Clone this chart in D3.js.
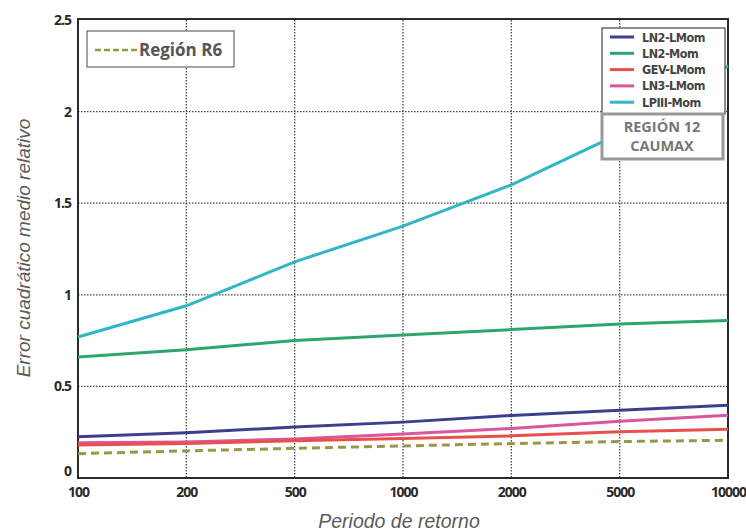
<!DOCTYPE html>
<html>
<head>
<meta charset="utf-8">
<script src="https://cdn.jsdelivr.net/npm/d3@7"></script>
<style>
  html, body { margin: 0; padding: 0; background: #fff; }
  svg { display: block; }
</style>
</head>
<body>
<svg id="chart" width="746" height="531"></svg>
<script>
// Return periods (categorical, evenly spaced on the axis)
const periods = ["100", "200", "500", "1000", "2000", "5000", "10000"];
const yTicks = [0, 0.5, 1, 1.5, 2, 2.5];

// Relative RMSE per distribution / fitting method
const ln2LMom  = [0.225, 0.247, 0.278, 0.305, 0.341, 0.370, 0.397];
const ln2Mom   = [0.66, 0.70, 0.75, 0.78, 0.81, 0.84, 0.86];
const gevLMom  = [0.180, 0.188, 0.204, 0.215, 0.230, 0.252, 0.266];
const ln3LMom  = [0.192, 0.197, 0.213, 0.240, 0.270, 0.310, 0.343];
const lp3Mom   = [0.77, 0.94, 1.18, 1.375, 1.60, 1.88, 2.25];
const regionR6 = [0.133, 0.148, 0.162, 0.175, 0.188, 0.199, 0.206];

const seriesNames  = ["LN2-LMom", "LN2-Mom", "GEV-LMom", "LN3-LMom", "LPIII-Mom"];
const seriesValues = [ln2LMom, ln2Mom, gevLMom, ln3LMom, lp3Mom];
const seriesColors = ["#3d3f8e", "#2ea56e", "#e8504c", "#d9559c", "#2fb7c6"];
const drawOrder = [4, 1, 0, 3, 2];

const svg = d3.select("#chart");
const pLeft = 78, pRight = 728, pTop = 20, pBottom = 478;

const x = d3.scalePoint().domain(periods).range([pLeft, pRight]);
const y = d3.scaleLinear().domain([0, 2.5]).range([pBottom, pTop]);

// Grid
const grid = svg.append("g").attr("stroke", "#4a4a4a").attr("stroke-width", 1.3)
  .attr("stroke-dasharray", "1.5,1.5");
grid.selectAll("line.v").data(periods.slice(1, -1)).join("line")
  .attr("x1", d => x(d)).attr("x2", d => x(d)).attr("y1", pTop).attr("y2", pBottom);
grid.selectAll("line.h").data(yTicks.slice(1, -1)).join("line")
  .attr("x1", pLeft).attr("x2", pRight).attr("y1", d => y(d)).attr("y2", d => y(d));

// Axes
const tickFont = "'Open Sans', 'DejaVu Sans Condensed', sans-serif";
const xAxis = svg.append("g").attr("transform", `translate(0,${pBottom})`)
  .call(d3.axisBottom(x).tickSize(0).tickPadding(9));
xAxis.select(".domain").remove();
xAxis.selectAll("text").attr("font-family", tickFont).attr("font-size", 14)
  .attr("font-weight", 700).attr("fill", "#2a2a2a").attr("letter-spacing", -1);

const yAxis = svg.append("g").attr("transform", `translate(${pLeft},0)`)
  .call(d3.axisLeft(y).tickValues(yTicks).tickFormat(d => String(d)).tickSize(0).tickPadding(7));
yAxis.select(".domain").remove();
yAxis.selectAll("text").attr("font-family", tickFont).attr("font-size", 14)
  .attr("font-weight", 700).attr("fill", "#2a2a2a").attr("letter-spacing", -1);
yAxis.selectAll(".tick").filter(d => d === 0).select("text").attr("dy", "-0.15em");

// Frame
svg.append("rect").attr("x", pLeft).attr("y", pTop - 1).attr("width", pRight - pLeft)
  .attr("height", pBottom - pTop + 1).attr("fill", "none").attr("stroke", "#2a2a2a")
  .attr("stroke-width", 2);

// Lines
const line = d3.line().x((d, i) => x(periods[i])).y(d => y(d));
const plot = svg.append("g");
drawOrder.forEach(k => {
  plot.append("path").datum(seriesValues[k]).attr("d", line)
    .attr("fill", "none").attr("stroke", seriesColors[k]).attr("stroke-width", 3);
});
plot.append("path").datum(regionR6).attr("d", line).attr("fill", "none")
  .attr("stroke", "#9a9648").attr("stroke-width", 3).attr("stroke-dasharray", "8,5");

// Region R6 legend
svg.append("rect").attr("x", 87).attr("y", 31).attr("width", 147).attr("height", 36)
  .attr("fill", "#fff").attr("stroke", "#666").attr("stroke-width", 1.2);
svg.append("line").attr("x1", 95).attr("x2", 137).attr("y1", 50).attr("y2", 50)
  .attr("stroke", "#9a9648").attr("stroke-width", 2.5).attr("stroke-dasharray", "6,3");
svg.append("text").attr("x", 139).attr("y", 56).text("Región R6")
  .attr("font-family", "'Open Sans', sans-serif").attr("font-size", 17)
  .attr("font-weight", 700).attr("fill", "#555");

// Series legend
svg.append("rect").attr("x", 602).attr("y", 28).attr("width", 123).attr("height", 86)
  .attr("fill", "#fff").attr("stroke", "#444").attr("stroke-width", 1.2);
const leg = svg.append("g");
seriesNames.forEach((name, i) => {
  const ly = 37 + i * 16.3;
  leg.append("line").attr("x1", 610).attr("x2", 634).attr("y1", ly).attr("y2", ly)
    .attr("stroke", seriesColors[i]).attr("stroke-width", 3);
  leg.append("text").attr("x", 642).attr("y", ly + 4.5).text(name)
    .attr("font-family", "'DejaVu Sans Condensed', sans-serif").attr("font-size", 12.5)
    .attr("font-weight", 700).attr("fill", "#444").attr("letter-spacing", -0.5);
});

// Region label box
svg.append("rect").attr("x", 602).attr("y", 114).attr("width", 121).attr("height", 45)
  .attr("fill", "#fff").attr("stroke", "#999").attr("stroke-width", 3);
svg.append("text").attr("x", 662).attr("y", 132).attr("text-anchor", "middle")
  .text("REGIÓN 12").attr("font-family", "'Open Sans', sans-serif")
  .attr("font-size", 14.5).attr("font-weight", 700).attr("fill", "#777");
svg.append("text").attr("x", 662).attr("y", 151).attr("text-anchor", "middle")
  .text("CAUMAX").attr("font-family", "'Open Sans', sans-serif")
  .attr("font-size", 14.5).attr("font-weight", 700).attr("fill", "#777");

// Axis titles
svg.append("text").attr("transform", "translate(30,248) rotate(-90)")
  .attr("text-anchor", "middle").text("Error cuadrático medio relativo")
  .attr("font-family", "'Liberation Sans', Arial, sans-serif").attr("font-size", 19)
  .attr("font-style", "italic").attr("fill", "#5a5a5a");
svg.append("text").attr("x", 399).attr("y", 528).attr("text-anchor", "middle")
  .text("Periodo de retorno")
  .attr("font-family", "'Liberation Sans', Arial, sans-serif").attr("font-size", 19.5)
  .attr("font-style", "italic").attr("fill", "#5a5a5a");
</script>
</body>
</html>
